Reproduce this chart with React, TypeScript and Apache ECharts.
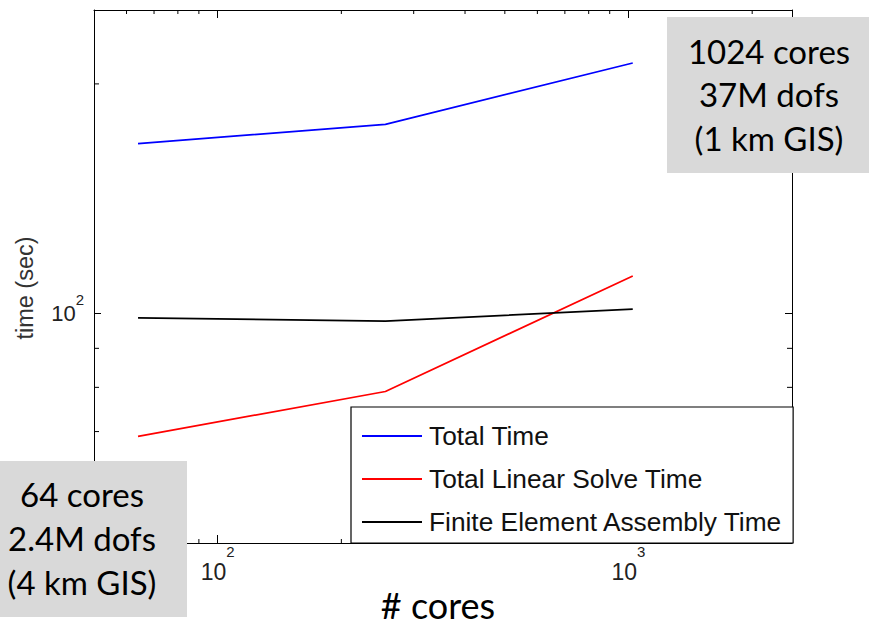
import React, { useEffect, useRef } from "react";
import * as echarts from "echarts";

// ---- data ----
const cores = [64, 256, 1024];
const totalTime = [167, 177, 213];
const linearSolveTime = [69, 79, 112];
const assemblyTime = [98.7, 97.7, 101.3];

const seriesNames = ["Total Time", "Total Linear Solve Time", "Finite Element Assembly Time"];
const seriesColors = ["#0000ff", "#ff0000", "#000000"];

const xRange = [50, 2500];
const yRange = [50, 250];
const xMinorTicks = [60, 70, 80, 90, 200, 300, 400, 500, 600, 700, 800, 900, 2000];
const yMinorTicks = [60, 70, 80, 90, 200];

const topBoxLines = ["1024 cores", "37M dofs", "(1 km GIS)"];
const bottomBoxLines = ["64 cores", "2.4M dofs", "(4 km GIS)"];
const xTitle = "# cores";
const yTitle = "time (sec)";

const SANS = "Liberation Sans";
const BOXFONT = "Lato";

function powLabel(v: number) {
  const e = Math.log10(v);
  if (Math.abs(e - Math.round(e)) > 1e-6) return "";
  return `{b|10}{s|${Math.round(e)}}`;
}

export default function App() {
  const ref = useRef<HTMLDivElement>(null);
  useEffect(() => {
    if (!ref.current) return;
    const chart = echarts.init(ref.current, null, { renderer: "svg" });

    const mkSeries = (vals: number[], i: number) => ({
      name: seriesNames[i],
      type: "line",
      data: cores.map((c, k) => [c, vals[k]]),
      symbol: "none",
      color: seriesColors[i],
      lineStyle: { color: seriesColors[i], width: 1.7 },
      xAxisIndex: 0,
      yAxisIndex: 0,
      z: 3,
    });

    const axisCommon = {
      type: "log",
      logBase: 10,
      axisLine: { show: true, onZero: false, lineStyle: { color: "#000", width: 1 } },
      splitLine: { show: false },
      minorTick: { show: false },
    };

    const xLabelRich = {
      b: { fontSize: 23, fontFamily: SANS, color: "#222", lineHeight: 56 },
      s: { fontSize: 15, fontFamily: SANS, color: "#222", lineHeight: 18, verticalAlign: "top" },
    };
    const yLabelRich = {
      b: { fontSize: 22, fontFamily: SANS, color: "#222", lineHeight: 42 },
      s: { fontSize: 15, fontFamily: SANS, color: "#222", lineHeight: 18, verticalAlign: "top" },
    };

    const option: any = {
      animation: false,
      backgroundColor: "#fff",
      textStyle: { fontFamily: SANS },
      grid: { left: 94, top: 10, width: 698, height: 533, show: false },
      xAxis: [
        {
          ...axisCommon,
          position: "bottom",
          min: xRange[0],
          max: xRange[1],
          axisTick: { show: true, inside: true, length: 8, lineStyle: { color: "#000" } },
          axisLabel: {
            show: true,
            margin: 1,
            fontFamily: SANS,
            fontSize: 22,
            showMinLabel: false,
            showMaxLabel: false,
            formatter: (v: number) => powLabel(v),
            rich: xLabelRich,
          },
        },
        {
          ...axisCommon,
          position: "top",
          min: xRange[0],
          max: xRange[1],
          axisTick: { show: true, inside: true, length: 8, lineStyle: { color: "#000" } },
          axisLabel: { show: false },
        },
      ],
      yAxis: [
        {
          ...axisCommon,
          position: "left",
          min: yRange[0],
          max: yRange[1],
          axisTick: { show: true, inside: true, length: 7, lineStyle: { color: "#000" } },
          axisLabel: {
            show: true,
            margin: 10,
            fontFamily: SANS,
            fontSize: 22,
            showMinLabel: false,
            showMaxLabel: false,
            formatter: (v: number) => powLabel(v),
            rich: yLabelRich,
          },
        },
        {
          ...axisCommon,
          position: "right",
          min: yRange[0],
          max: yRange[1],
          axisTick: { show: true, inside: true, length: 7, lineStyle: { color: "#000" } },
          axisLabel: { show: false },
        },
      ],
      legend: {
        data: seriesNames,
        orient: "vertical",
        left: 351,
        top: 407,
        padding: [14, 10, 6, 11],
        itemGap: 13,
        itemWidth: 60,
        itemHeight: 2,
        icon: "rect",
        backgroundColor: "#fff",
        borderColor: "#000",
        borderWidth: 1.2,
        textStyle: { fontFamily: SANS, fontSize: 26.3, color: "#111", lineHeight: 30, padding: [0, 0, 0, 2] },
        z: 20,
      },
      series: [
        mkSeries(totalTime, 0),
        mkSeries(linearSolveTime, 1),
        mkSeries(assemblyTime, 2),
        {
          type: "custom",
          name: "xminor",
          xAxisIndex: 0,
          yAxisIndex: 0,
          clip: false,
          silent: true,
          data: xMinorTicks.map((v) => [v, yRange[0]]),
          renderItem: (params: any, api: any) => {
            const v = api.value(0);
            const pb = api.coord([v, yRange[0]]);
            const pt = api.coord([v, yRange[1]]);
            return {
              type: "group",
              children: [
                { type: "line", shape: { x1: pb[0], y1: pb[1], x2: pb[0], y2: pb[1] - 4 }, style: { stroke: "#000", lineWidth: 1 } },
                { type: "line", shape: { x1: pt[0], y1: pt[1], x2: pt[0], y2: pt[1] + 4 }, style: { stroke: "#000", lineWidth: 1 } },
              ],
            };
          },
        },
        {
          type: "custom",
          name: "yminor",
          xAxisIndex: 0,
          yAxisIndex: 0,
          clip: false,
          silent: true,
          data: yMinorTicks.map((v) => [xRange[0], v]),
          renderItem: (params: any, api: any) => {
            const v = api.value(1);
            const pl = api.coord([xRange[0], v]);
            const pr = api.coord([xRange[1], v]);
            return {
              type: "group",
              children: [
                { type: "line", shape: { x1: pl[0], y1: pl[1], x2: pl[0] + 5, y2: pl[1] }, style: { stroke: "#000", lineWidth: 1 } },
                { type: "line", shape: { x1: pr[0], y1: pr[1], x2: pr[0] - 5, y2: pr[1] }, style: { stroke: "#000", lineWidth: 1 } },
              ],
            };
          },
        },
      ],
      graphic: [
        {
          type: "text",
          x: 25,
          y: 288,
          rotation: Math.PI / 2,
          z: 50,
          style: { text: yTitle, fontFamily: SANS, fontSize: 23.5, fill: "#333", textAlign: "center", textVerticalAlign: "middle" },
        },
        {
          type: "text",
          x: 438,
          y: 605,
          z: 50,
          style: { text: xTitle, fontFamily: BOXFONT, fontSize: 36, fill: "#000", textAlign: "center", textVerticalAlign: "middle" },
        },
        {
          type: "rect",
          z: 100,
          shape: { x: 667, y: 17, width: 202, height: 156 },
          style: { fill: "#d9d9d9" },
        },
        ...topBoxLines.map((t, i) => ({
          type: "text",
          x: 769,
          y: 50.5 + i * 43.5,
          z: 101,
          style: { text: t, fontFamily: BOXFONT, fontSize: 33, fill: "#000", textAlign: "center", textVerticalAlign: "middle" },
        })),
        {
          type: "rect",
          z: 100,
          shape: { x: 0, y: 461, width: 187, height: 156 },
          style: { fill: "#d9d9d9" },
        },
        ...bottomBoxLines.map((t, i) => ({
          type: "text",
          x: 82,
          y: 494 + i * 44,
          z: 101,
          style: { text: t, fontFamily: BOXFONT, fontSize: 33, fill: "#000", textAlign: "center", textVerticalAlign: "middle" },
        })),
      ],
    };

    chart.setOption(option);
    return () => chart.dispose();
  }, []);

  return <div ref={ref} style={{ position: "absolute", left: 0, top: 0, width: 869, height: 626 }} />;
}
